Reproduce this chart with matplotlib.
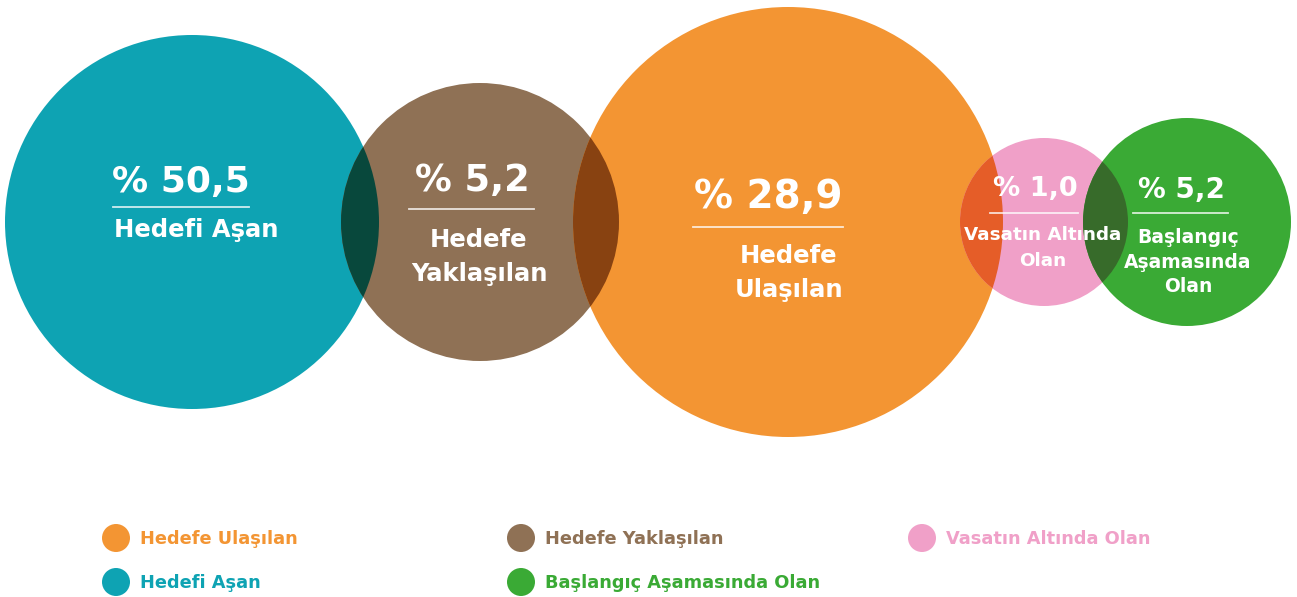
import matplotlib
matplotlib.use('Agg')
import matplotlib.pyplot as plt
from matplotlib.patches import Circle
from matplotlib.colors import to_rgb

# ---data-----------------------------------------------------------------
categories = ['Hedefi Aşan', 'Hedefe Yaklaşılan', 'Hedefe Ulaşılan',
              'Vasatın Altında Olan', 'Başlangıç Aşamasında Olan']
values = [50.5, 5.2, 28.9, 1.0, 5.2]
bubble_labels = ['Hedefi Aşan', 'Hedefe\nYaklaşılan', 'Hedefe\nUlaşılan',
                 'Vasatın Altında\nOlan', 'Başlangıç\nAşamasında\nOlan']
legend_order = ['Hedefe Ulaşılan', 'Hedefe Yaklaşılan', 'Vasatın Altında Olan',
                'Hedefi Aşan', 'Başlangıç Aşamasında Olan']

# ---layout / style (pixels) ---------------------------------------------
colors = ['#0ea3b3', '#8f7155', '#f39533', '#f0a0c8', '#3aaa35']
centers = [(192, 222), (480, 222), (788, 222), (1044, 222), (1187, 222)]
radii = [187, 139, 215, 84, 104]
num_pos = [(181, 182), (472, 181), (768, 197), (1035, 189), (1181, 190)]
line_pos = [(113, 249, 207), (409, 534, 209), (693, 843, 227), (990, 1078, 213), (1133, 1228, 213)]
lab_pos = [(196, 230), (479, 257), (789, 273), (1043, 248), (1188, 262)]
num_size = [26, 26.5, 28, 19.5, 20]
lab_size = [17.5, 17.5, 17.5, 13.2, 13.5]
lab_spacing = [1.0, 1.5, 1.5, 1.6, 1.36]
leg_xy = [(116, 538), (521, 538), (922, 538), (116, 582), (521, 582)]

FONT = 'DejaVu Sans'

fig = plt.figure(figsize=(12.97, 5.97), dpi=100)
ax = fig.add_axes([0, 0, 1, 1])
ax.set_xlim(0, 1297)
ax.set_ylim(597, 0)
ax.axis('off')

circles = []
for (cx, cy), r, c in zip(centers, radii, colors):
    p = Circle((cx, cy), r, facecolor=c, edgecolor='none', zorder=1)
    ax.add_patch(p)
    circles.append(p)

# overlaps drawn as multiply blend of neighbours
for i in range(len(circles) - 1):
    a = to_rgb(colors[i])
    b = to_rgb(colors[i + 1])
    mix = tuple(x * y for x, y in zip(a, b))
    lens = Circle(centers[i + 1], radii[i + 1], facecolor=mix, edgecolor='none', zorder=2)
    ax.add_patch(lens)
    lens.set_clip_path(circles[i])

for i in range(len(values)):
    txt = '% ' + f'{values[i]:.1f}'.replace('.', ',')
    ax.text(num_pos[i][0], num_pos[i][1], txt, color='white', fontsize=num_size[i],
            fontweight='bold', family=FONT, ha='center', va='center', zorder=5)
    x0, x1, y = line_pos[i]
    ax.plot([x0, x1], [y, y], color='white', alpha=0.8, lw=1.3, zorder=5)
    ax.text(lab_pos[i][0], lab_pos[i][1], bubble_labels[i], color='white', fontsize=lab_size[i],
            fontweight='bold', family=FONT, ha='center', va='center',
            linespacing=lab_spacing[i], zorder=5)

# legend
for name, (lx, ly) in zip(legend_order, leg_xy):
    c = colors[categories.index(name)]
    ax.add_patch(Circle((lx, ly), 14, facecolor=c, edgecolor='none'))
    ax.text(lx + 24, ly + 1, name, color=c, fontsize=12.8, fontweight='bold',
            family=FONT, ha='left', va='center')

fig.savefig('out.png', dpi=100)
